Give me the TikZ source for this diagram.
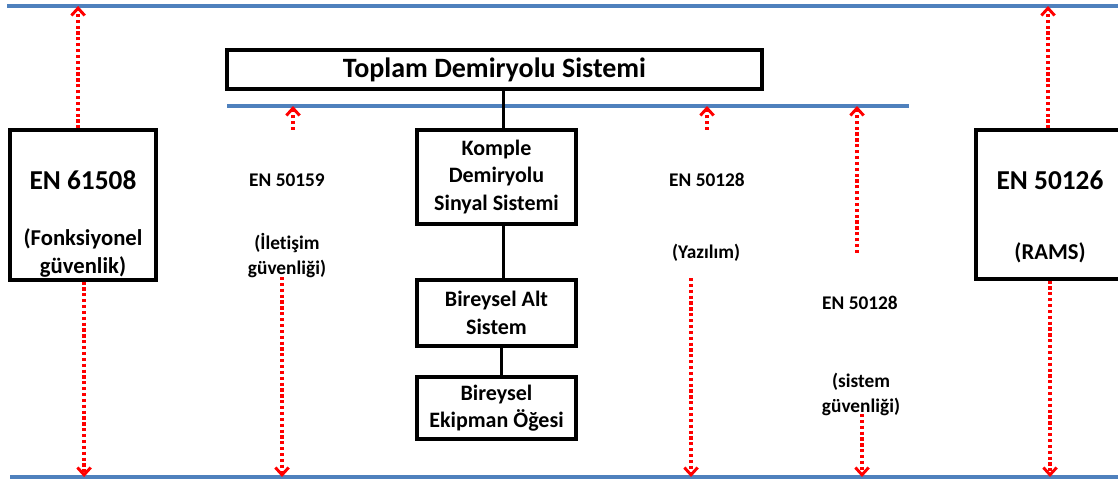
\documentclass[tikz,border=0pt]{standalone}
\usepackage{fontspec}
\setmainfont{Carlito}[Ligatures=NoCommon]
\usetikzlibrary{arrows.meta}
\definecolor{railblue}{RGB}{79,129,189}
\begin{document}
\begin{tikzpicture}[x=0.75pt,y=-0.75pt,
  level/.style={draw=railblue,line width=2.6pt},
  frame/.style={draw=black,line width=2.3pt,rectangle,inner sep=0pt},
  tree/.style={draw=black,line width=2.3pt},
  ref/.style={draw=red,line width=2.8pt,dash pattern=on 2.4pt off 2pt,
    -{Straight Barb[length=5.5pt,width=10pt,line width=2.2pt]}},
  big/.style={font=\fontsize{20.5}{24}\selectfont\bfseries},
  head/.style={font=\fontsize{21}{25}\selectfont\bfseries},
  mid/.style={font=\fontsize{16.5}{20.5}\selectfont\bfseries,align=center},
  side/.style={font=\fontsize{17}{20.5}\selectfont\bfseries,align=center},
  small/.style={font=\fontsize{14.5}{18.8}\selectfont\bfseries,align=center}]
\clip (0,0) rectangle (1118,481);
\fill[white] (0,0) rectangle (1118,481);

% horizontal levels
\draw[level] (7,6) coordinate (topL) -- (1118,6) coordinate (topR);
\draw[level] (10,477) coordinate (botL) -- (1118,477) coordinate (botR);
\draw[level] (227,106) coordinate (midL) -- (909,106) coordinate (midR);

% system hierarchy
\node[frame,minimum width=535*0.75pt,minimum height=39*0.75pt,head] (total) at (494.5,69.5) {Toplam Demiryolu Sistemi};
\node[frame,minimum width=159*0.75pt,minimum height=94*0.75pt,mid] (komple) at (496.5,177) {Komple\\Demiryolu\\Sinyal Sistemi};
\node[frame,minimum width=159*0.75pt,minimum height=66*0.75pt,mid] (alt) at (496.5,313) {Bireysel Alt\\Sistem};
\node[frame,minimum width=159*0.75pt,minimum height=62*0.75pt,mid] (ekip) at (496.5,408) {Bireysel\\Ekipman Öğesi};

\draw[tree] ([xshift=5pt]komple.north) -- ([xshift=5pt]komple.north |- total.south);
\draw[tree] ([xshift=5pt]alt.north) -- ([xshift=5pt]alt.north |- komple.south);
\draw[tree] ([xshift=3.5pt]ekip.north) -- ([xshift=3.5pt]ekip.north |- alt.south);

% standards with frames
\node[frame,minimum width=146*0.75pt,minimum height=150*0.75pt] (iec) at (83,205) {};
\node[big] (iecname) at (83,180) {EN 61508};
\node[side] (iecnote) at (83,253) {(Fonksiyonel\\güvenlik)};

\node[frame,minimum width=160*0.75pt,minimum height=149*0.75pt] (rams) at (1056,204.5) {};
\node[big] (ramsname) at (1050,180) {EN 50126};
\node[side] (ramsnote) at (1050,253) {(RAMS)};

% standards without frames
\node[small] (comname) at (287,180) {EN 50159};
\node[small] (comnote) at (287,256) {(İletişim\\güvenliği)};
\node[small] (swname) at (707,180) {EN 50128};
\node[small] (swnote) at (706,253) {(Yazılım)};
\node[small] (sysname) at (860,303) {EN 50128};
\node[small] (sysnote) at (861,394) {(sistem\\güvenliği)};

% scope arrows
\coordinate (comup) at (293,130);
\coordinate (comdn) at (282,277);
\coordinate (swup) at (707,130);
\coordinate (swdn) at (691,278);
\coordinate (sysup) at (857,253);
\coordinate (sysdn) at (862,414);

\draw[ref] ([xshift=-3.7pt]iec.north) -- ([xshift=-3.7pt]iec.north |- topL);
\draw[ref] ([xshift=0.8pt]iec.south) -- ([xshift=0.8pt]iec.south |- botL);
\draw[ref] (comup) -- (comup |- midL);
\draw[ref] (comdn) -- (comdn |- botL);
\draw[ref] (swup) -- (swup |- midL);
\draw[ref] (swdn) -- (swdn |- botL);
\draw[ref] (sysup) -- (sysup |- midR);
\draw[ref] (sysdn) -- (sysdn |- botL);
\draw[ref] ([xshift=-6pt]rams.north) -- ([xshift=-6pt]rams.north |- topR);
\draw[ref] ([xshift=-4.5pt]rams.south) -- ([xshift=-4.5pt]rams.south |- botR);
\end{tikzpicture}
\end{document}
